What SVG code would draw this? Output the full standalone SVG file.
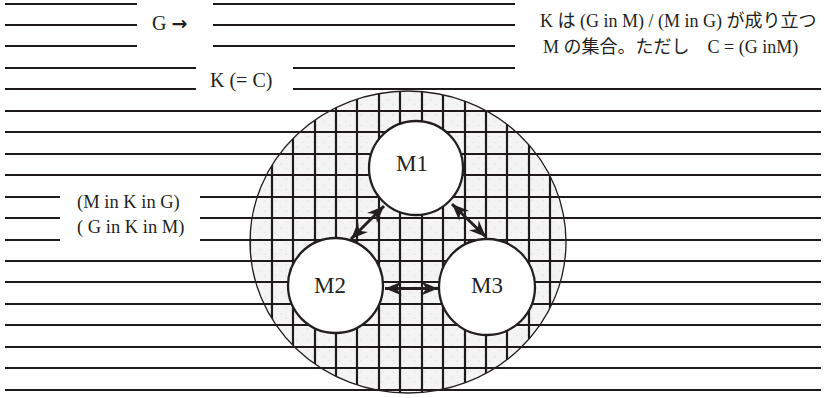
<svg xmlns="http://www.w3.org/2000/svg" width="824" height="398" viewBox="0 0 824 398">
<style>
.ln{stroke:#1e1a1b;stroke-width:2;fill:none}
.gv{stroke:#1e1a1b;stroke-width:2.2;fill:none}
.txt{font-family:"Liberation Serif","Noto Sans CJK JP",serif;fill:#231f20}
.node{fill:#fff;stroke:#231f20;stroke-width:2.3}
.arr{stroke:#231f20;stroke-width:3;fill:none;marker-start:url(#ah);marker-end:url(#ah)}
</style>
<defs>
<pattern id="stip" patternUnits="userSpaceOnUse" x="0" y="0" width="10.7" height="10.7">
<rect width="10.7" height="10.7" fill="#f4f4f4"/>
<circle cx="3" cy="3.5" r="0.7" fill="#d6d6d6"/>
<circle cx="8" cy="8" r="0.7" fill="#d6d6d6"/>
</pattern>
<clipPath id="kclip"><ellipse cx="408" cy="242" rx="158" ry="151"/></clipPath>
<marker id="ah" markerUnits="userSpaceOnUse" markerWidth="20" markerHeight="16" refX="17" refY="8" orient="auto-start-reverse">
<path d="M17,8 L0,1 L5.5,8 L0,15 Z" fill="#231f20"/>
</marker>
</defs>
<rect width="824" height="398" fill="#fff"/>
<g id="lines">
<path class="ln" d="M5,4H137M213,4H515M5,25H137M213,25H515M5,46H137M213,46H515M5,68H196M293,68H515M5,89H196M293,89H821M5,111H821M5,132H821M5,154H821M5,175H821M5,197H60M200,197H821M5,218H60M200,218H821M5,240H60M200,240H821M5,261H821M5,282H821M5,304H821M5,325H821M5,347H821M5,368H821M5,390H821"/>
</g>
<g id="K">
<ellipse cx="408" cy="242" rx="158" ry="151" fill="url(#stip)"/>
<g clip-path="url(#kclip)">
<path class="gv" d="M250,85V400M272,85V400M293,85V400M315,85V400M336,85V400M357,85V400M379,85V400M400,85V400M422,85V400M443,85V400M465,85V400M486,85V400M507,85V400M529,85V400M550,85V400"/>
<path class="ln" d="M240,111H580M240,132H580M240,154H580M240,175H580M240,197H580M240,218H580M240,240H580M240,261H580M240,282H580M240,304H580M240,325H580M240,347H580M240,368H580M240,390H580"/>
</g>
<ellipse cx="408" cy="242" rx="158" ry="151" fill="none" stroke="#231f20" stroke-width="1.3"/>
</g>
<g id="M1">
<circle class="node" cx="416" cy="168" r="47"/>
<text class="txt" x="412" y="171" font-size="23" text-anchor="middle">M1</text>
</g>
<g id="M2">
<circle class="node" cx="335.5" cy="285.5" r="47.5"/>
<text class="txt" x="330" y="293" font-size="23" text-anchor="middle">M2</text>
</g>
<g id="M3">
<circle class="node" cx="487" cy="287" r="48"/>
<text class="txt" x="487" y="293" font-size="23" text-anchor="middle">M3</text>
</g>
<g id="connectors">
<line class="arr" x1="384" y1="206" x2="351" y2="239"/>
<line class="arr" x1="452" y1="204" x2="486" y2="237"/>
<line class="arr" x1="385" y1="288.5" x2="438" y2="288.5"/>
</g>
<g id="labels">
<text class="txt" x="152" y="30" font-size="20">G <tspan font-family="DejaVu Sans, sans-serif" font-weight="bold" font-size="19">→</tspan></text>
<text class="txt" x="210" y="87" font-size="20">K (= C)</text>
<text class="txt" x="77" y="208" font-size="18.5">(M in K in G)</text>
<text class="txt" x="77" y="233" font-size="18.5">( G in K in M)</text>
<text class="txt" x="540" y="27" font-size="18">K は (G in M) / (M in G) が成り立つ</text>
<text class="txt" x="543" y="53" font-size="18">M の集合。ただし　C = (G inM)</text>
</g>
</svg>
